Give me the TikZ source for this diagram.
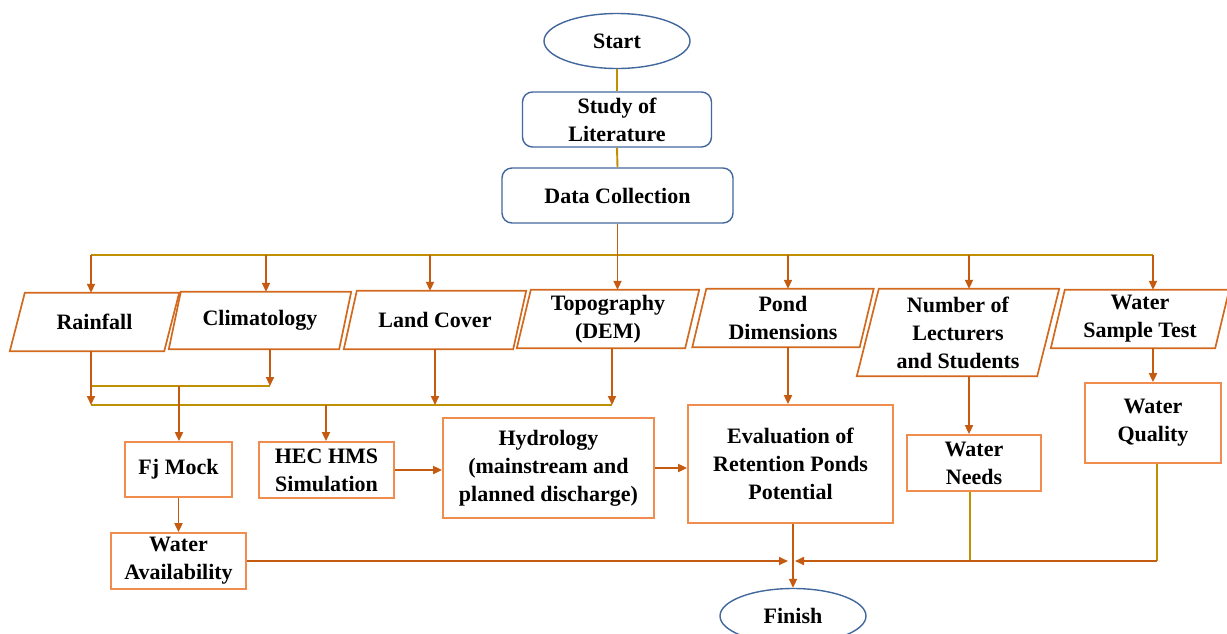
\documentclass[tikz,border=0pt]{standalone}
\usepackage{fontspec}
\setmainfont{Liberation Serif}
\usetikzlibrary{arrows.meta,shapes.geometric,calc}
\definecolor{arrc}{HTML}{C55A11}
\definecolor{gold}{HTML}{BF9000}
\definecolor{boxc}{HTML}{F08C4E}
\definecolor{parc}{HTML}{D2691E}
\definecolor{bluec}{HTML}{41679C}
\begin{document}
\begin{tikzpicture}[x=1pt,y=-1pt,
  every node/.style={font=\fontsize{22}{28}\selectfont\bfseries, align=center, inner sep=0pt},
  term/.style={ellipse, draw=bluec, line width=1.4pt, minimum width=146pt, minimum height=55pt},
  rbox/.style={rectangle, rounded corners=10pt, draw=bluec, line width=1.4pt},
  obox/.style={rectangle, draw=boxc, line width=1.8pt},
  ptxt/.style={rectangle},
  arr/.style={draw=arrc, line width=1.9pt, -{Triangle[length=9pt,width=8pt]}},
  gline/.style={draw=gold, line width=1.9pt},
  pout/.style={draw=parc, line width=1.7pt}
]
\useasboundingbox (0,0) rectangle (1227,633);

% macro for parallelogram outline around a text node
\newcommand{\parout}[2]{%
  \draw[pout] ([xshift=#2]#1.north west) -- ([xshift=#2]#1.north east)
     -- ([xshift=-#2]#1.south east) -- ([xshift=-#2]#1.south west) -- cycle;}

% top column
\node[term] (start) at (617,41) {Start};
\node[rbox, minimum width=189pt, minimum height=55pt] (lit) at (617,119.5) {Study of\\Literature};
\node[rbox, minimum width=231pt, minimum height=55pt] (dc) at (617.5,195.5) {Data Collection};

% parallelograms
\node[ptxt, minimum width=154pt, minimum height=58pt] (rain) at (94.5,322) {Rainfall};
\node[ptxt, minimum width=170pt, minimum height=57pt] (clim) at (260,320.5) {Climatology};
\node[ptxt, minimum width=169pt, minimum height=58pt] (land) at (435,320) {Land Cover};
\node[ptxt, minimum width=168pt, minimum height=58pt] (topo) at (608,319) {Topography\\(DEM)};
\node[ptxt, minimum width=167pt, minimum height=58pt] (pond) at (783,318) {Pond\\Dimensions};
\node[ptxt, minimum width=180pt, minimum height=87pt] (num) at (958,332.5) {Number of\\Lecturers\\and Students};
\node[ptxt, minimum width=164pt, minimum height=58pt] (samp) at (1140,319) {Water\\Sample Test};
\parout{rain}{7.5}
\parout{clim}{6}
\parout{land}{6.5}
\parout{topo}{7}
\parout{pond}{7}
\parout{num}{11}
\parout{samp}{7}

% lower boxes
\node[obox, minimum width=107pt, minimum height=55pt] (fj) at (178.5,469.5) {Fj Mock};
\node[obox, minimum width=135pt, minimum height=56pt] (hec) at (326.5,470) {HEC HMS\\Simulation};
\node[obox, minimum width=211pt, minimum height=100pt] (hyd) at (548.5,468) {Hydrology\\(mainstream and\\planned discharge)};
\node[obox, minimum width=205pt, minimum height=118pt] (eval) at (790.5,464) {Evaluation of\\Retention Ponds\\Potential};
\node[obox, minimum width=134pt, minimum height=56pt] (need) at (974,463) {Water\\Needs};
\node[obox, minimum width=136pt, minimum height=80pt] (qual) at (1153,423) {Water\\Quality};
\node[obox, minimum width=135pt, minimum height=56pt] (avail) at (178.5,561) {Water\\Availability};
\node[term] (fin) at (793,616) {Finish};

% helper coordinates (columns and buses)
\coordinate (bus1) at (0,255);
\coordinate (bus2) at (0,386);
\coordinate (bus3) at (0,405);
\coordinate (bus4) at (0,561);
\coordinate (xr) at (91,0);
\coordinate (xc) at (266,0);
\coordinate (xcb) at (270,0);
\coordinate (xl) at (430,0);
\coordinate (xlb) at (435,0);
\coordinate (xtb) at (612,0);
\coordinate (xp) at (788,0);
\coordinate (xn) at (969,0);
\coordinate (xs) at (1153,0);
\coordinate (xf) at (179,0);
\coordinate (xh) at (326,0);
\coordinate (xe) at (793,0);
\coordinate (xwn) at (970,0);
\coordinate (xq) at (1157,0);

% top connectors
\draw[gline] (start.south) -- (lit.north);
\draw[gline] (lit.south) -- (dc.south |- dc.north);
\draw[gline] (xr |- bus1) -- (xs |- bus1);
\draw[arr] (dc.south) -- (dc.south |- topo.north);
\draw[arr] (xr |- bus1) -- (xr |- rain.north);
\draw[arr] (xc |- bus1) -- (xc |- clim.north);
\draw[arr] (xl |- bus1) -- (xl |- land.north);
\draw[arr] (xp |- bus1) -- (xp |- pond.north);
\draw[arr] (xn |- bus1) -- (xn |- num.north);
\draw[arr] (xs |- bus1) -- (xs |- samp.north);

% middle buses
\draw[gline] (xr |- bus2) -- (xcb |- bus2);
\draw[gline] (xr |- bus3) -- (xtb |- bus3);
\draw[arr] (xcb |- clim.south) -- (xcb |- bus2);
\draw[arr] (xr |- rain.south) -- (xr |- bus3);
\draw[arr] (xlb |- land.south) -- (xlb |- bus3);
\draw[arr] (xtb |- topo.south) -- (xtb |- bus3);
\draw[arr] (xf |- bus2) -- (xf |- fj.north);
\draw[arr] (xh |- bus3) -- (xh |- hec.north);

% box connectors
\draw[arr] (fj.south) -- (fj.south |- avail.north);
\draw[arr] (hec.east) -- (hec.east -| hyd.west);
\draw[arr] (hyd.east) -- (hyd.east -| eval.west);
\draw[arr] (xp |- pond.south) -- (xp |- eval.north);
\draw[arr] (xn |- num.south) -- (xn |- need.north);
\draw[arr] (xs |- samp.south) -- (xs |- qual.north);

% bottom
\draw[gline] (xwn |- need.south) -- (xwn |- bus4);
\draw[gline] (xq |- qual.south) -- (xq |- bus4);
\draw[arr] (avail.east) -- ([xshift=-5pt]xe |- bus4);
\draw[arr] (xq |- bus4) -- ([xshift=2pt]xe |- bus4);
\draw[arr] (xe |- eval.south) -- (xe |- fin.north);
\end{tikzpicture}
\end{document}
